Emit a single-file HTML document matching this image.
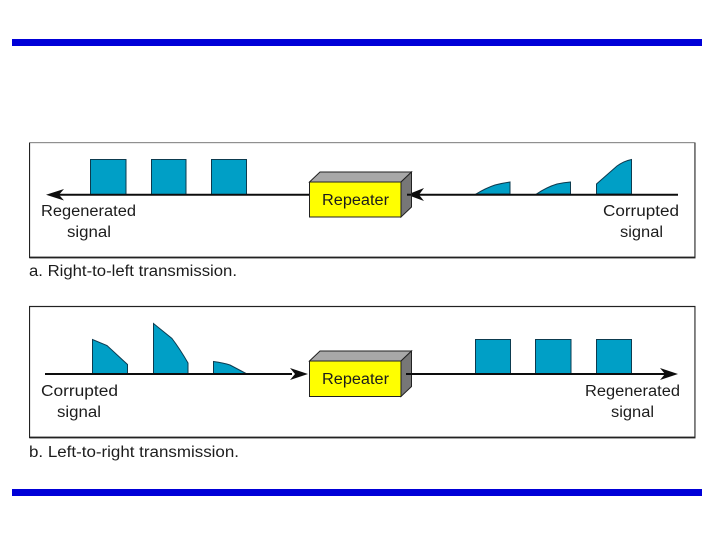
<!DOCTYPE html>
<html><head><meta charset="utf-8"><style>html,body{margin:0;padding:0;background:#fff}svg{display:block}text{font-family:"Liberation Sans",sans-serif;font-size:15.5px;fill:#1c1c1c}</style></head><body>
<svg width="720" height="540" viewBox="0 0 720 540" xmlns="http://www.w3.org/2000/svg">
<defs><filter id="s" x="0" y="0" width="100%" height="100%"><feGaussianBlur stdDeviation="0.3"/></filter></defs>
<rect x="12" y="39" width="690" height="7" fill="#0000d8"/>
<rect x="12" y="489" width="690" height="7" fill="#0000d8"/>
<g filter="url(#s)">
<rect x="29.500" y="142.500" width="665.500" height="115" fill="#fff" stroke="#222" stroke-width="1.200"/>
<path d="M29.500 257.500H695.500V142.500" fill="none" stroke="#222" stroke-width="1.800"/>
<rect x="29.500" y="306.500" width="665.500" height="131" fill="#fff" stroke="#222" stroke-width="1.200"/>
<path d="M29.500 437.500H695.500V306.500" fill="none" stroke="#222" stroke-width="1.800"/>
<g fill="#009fc6" stroke="#0b3a50" stroke-width="1">
<rect x="90.500" y="159.500" width="35.500" height="35"/><rect x="151.500" y="159.500" width="34.500" height="35"/><rect x="211.500" y="159.500" width="35" height="35"/>
<path d="M476 194Q486 188 495 185Q503 183 510 182V194Z"/>
<path d="M536.500 194Q547 187 557 184Q564 182.500 570.500 182V194Z"/>
<path d="M596.500 194V184L617 166Q624 161 631.500 159.500V194Z"/>
<path d="M92.500 374V339.500L107 345.500L127.500 364.500V374Z"/>
<path d="M153.500 374V323.500L172 338.500Q180 349 188 363V374Z"/>
<path d="M213.500 374V361.500Q224 363 230 365L247 374Z"/>
<rect x="475.500" y="339.500" width="35" height="34.500"/><rect x="535.500" y="339.500" width="35.500" height="34.500"/><rect x="596.500" y="339.500" width="35" height="34.500"/>
</g>
<g stroke="#111" stroke-width="2" fill="none">
<path d="M50 194.700H310"/><path d="M410 194.700H678"/><path d="M45 374H292"/><path d="M406 374H670"/>
</g>
<g fill="#111">
<path d="M46 194.700L64 189L59 194.700L64 200.500Z"/>
<path d="M407 194.700L424 188L419 194.700L424 201Z"/>
<path d="M308 374L290 368L295 374L290 380Z"/>
<path d="M678 374L660 368L665 374L660 380Z"/>
</g>
<g stroke="#222" stroke-width="1">
<path d="M309.500 182L320 172H411.500L401 182Z" fill="#a8a8a8"/>
<path d="M401 182L411.500 172V207L401 217Z" fill="#777"/>
<rect x="309.500" y="182" width="91.500" height="35" fill="#ffff00"/>
<path d="M309.500 361L320 351H411.500L401 361Z" fill="#a8a8a8"/>
<path d="M401 361L411.500 351V386.500L401 396.500Z" fill="#777"/>
<rect x="309.500" y="361" width="91.500" height="35.500" fill="#ffff00"/>
</g>
<path d="M406 374H413" stroke="#111" stroke-width="2"/>
<path d="M407 194.700H411" stroke="#111" stroke-width="2"/>
<text x="322" y="205" textLength="67" lengthAdjust="spacingAndGlyphs">Repeater</text>
<text x="322" y="384" textLength="67" lengthAdjust="spacingAndGlyphs">Repeater</text>
<text x="41" y="216" textLength="95" lengthAdjust="spacingAndGlyphs">Regenerated</text>
<text x="67" y="237" textLength="44" lengthAdjust="spacingAndGlyphs">signal</text>
<text x="603" y="216" textLength="76" lengthAdjust="spacingAndGlyphs">Corrupted</text>
<text x="620" y="237" textLength="43" lengthAdjust="spacingAndGlyphs">signal</text>
<text x="41" y="396" textLength="77" lengthAdjust="spacingAndGlyphs">Corrupted</text>
<text x="57" y="417" textLength="44" lengthAdjust="spacingAndGlyphs">signal</text>
<text x="585" y="396" textLength="95" lengthAdjust="spacingAndGlyphs">Regenerated</text>
<text x="611" y="417" textLength="43" lengthAdjust="spacingAndGlyphs">signal</text>
<text x="29" y="276" textLength="208" lengthAdjust="spacingAndGlyphs">a. Right-to-left transmission.</text>
<text x="29" y="457" textLength="210" lengthAdjust="spacingAndGlyphs">b. Left-to-right transmission.</text>
</g>
</svg>
</body></html>
